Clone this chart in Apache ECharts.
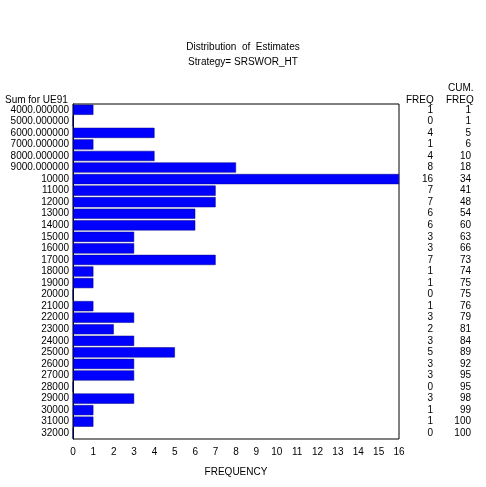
<!DOCTYPE html>
<html>
<head>
<meta charset="utf-8">
<script src="https://cdn.jsdelivr.net/npm/echarts@6/dist/echarts.min.js"></script>
<style>html,body{margin:0;padding:0;background:#fff}#chart{width:486px;height:487px}</style>
</head>
<body>
<div id="chart"></div>
<script>
// Values
const categories = ['4000.000000', '5000.000000', '6000.000000', '7000.000000', '8000.000000', '9000.000000',
  '10000', '11000', '12000', '13000', '14000', '15000', '16000', '17000', '18000', '19000', '20000',
  '21000', '22000', '23000', '24000', '25000', '26000', '27000', '28000', '29000', '30000', '31000', '32000'];
const freq = [1, 0, 4, 1, 4, 8, 16, 7, 7, 6, 6, 3, 3, 7, 1, 1, 0, 1, 3, 2, 3, 5, 3, 3, 0, 3, 1, 1, 0];
const cumFreq = [1, 1, 5, 6, 10, 18, 34, 41, 48, 54, 60, 63, 66, 73, 74, 75, 75, 76, 79, 81, 84, 89, 92, 95, 95, 98, 99, 100, 100];

const chart = echarts.init(document.getElementById('chart'));
const font = 'Liberation Sans, Arial, sans-serif';
const txt = { fontFamily: font, fontSize: 10, color: '#000' };

// Hidden-line category axis used just to print a column of values on the right
function valueColumn(values, margin) {
  return {
    type: 'category', data: categories, inverse: true, position: 'right',
    axisLine: { show: false }, axisTick: { show: false },
    axisLabel: Object.assign({ margin: margin, align: 'right', interval: 0,
      formatter: (v, i) => String(values[i]) }, txt)
  };
}

chart.setOption({
  animation: false,
  grid: { left: 73, right: 87, top: 104, bottom: 48, show: true, borderColor: '#000', borderWidth: 1 },
  graphic: [
    { type: 'text', left: 'center', top: 42, style: Object.assign({ text: 'Distribution  of  Estimates', font: '10px ' + font }) },
    { type: 'text', left: 'center', top: 57, style: Object.assign({ text: 'Strategy= SRSWOR_HT', font: '10px ' + font }) },
    { type: 'text', left: 5, top: 95, style: { text: 'Sum for UE91', font: '10px ' + font } },
    { type: 'text', left: 406, top: 95, style: { text: 'FREQ', font: '10px ' + font } },
    { type: 'text', left: 448, top: 83, style: { text: 'CUM.', font: '10px ' + font } },
    { type: 'text', left: 446, top: 95, style: { text: 'FREQ', font: '10px ' + font } }
  ],
  xAxis: {
    type: 'value', min: 0, max: 16, interval: 1,
    name: 'FREQUENCY', nameLocation: 'middle', nameGap: 28, nameTextStyle: txt,
    axisLine: { lineStyle: { color: '#000' } },
    axisTick: { lineStyle: { color: '#000' } },
    splitLine: { show: false },
    axisLabel: txt
  },
  yAxis: [
    {
      type: 'category', data: categories, inverse: true,
      axisLine: { lineStyle: { color: '#000' } },
      axisTick: { alignWithLabel: true, lineStyle: { color: '#000' } },
      axisLabel: Object.assign({ interval: 0, margin: 4 }, txt)
    },
    valueColumn(freq, 34),
    valueColumn(cumFreq, 72)
  ],
  series: [{
    type: 'bar', data: freq, barCategoryGap: '12%',
    itemStyle: { color: '#0000ff', borderColor: '#000080', borderWidth: 0.5 }
  }]
});
</script>
</body>
</html>
